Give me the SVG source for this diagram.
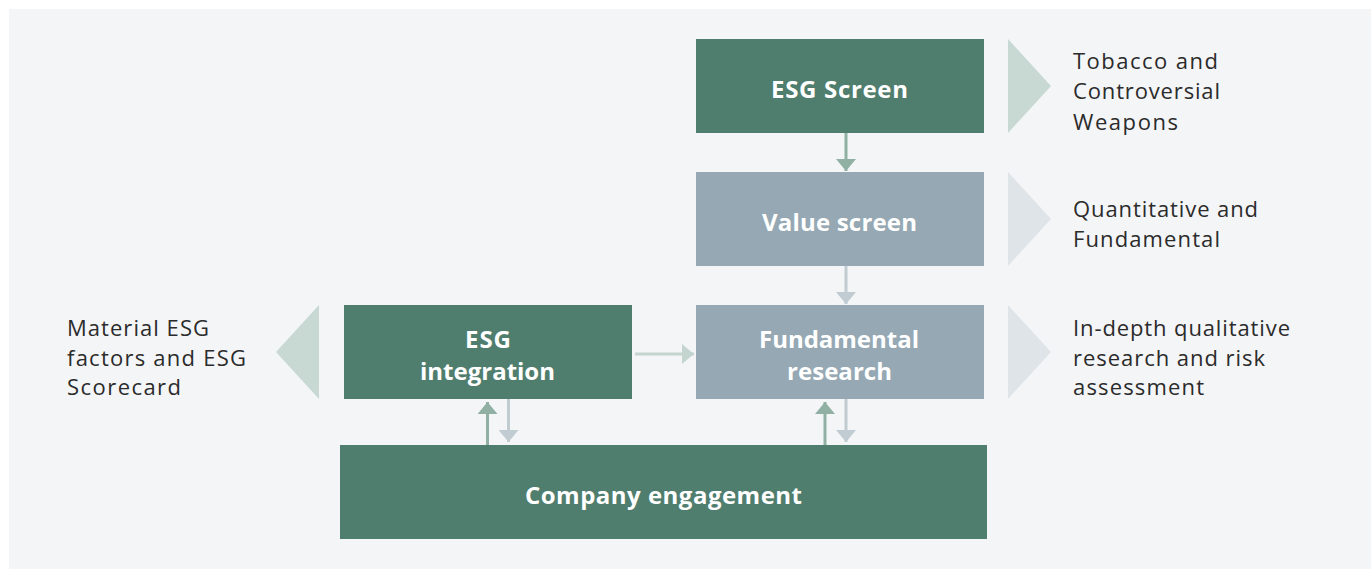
<svg xmlns="http://www.w3.org/2000/svg" width="1371" height="569" viewBox="0 0 1371 569">
<style>
.dk{fill:#4f7d6e}
.lt{fill:#95a8b3}
.bl{font-family:"Open Sans",Lato,"Liberation Sans",sans-serif;font-weight:700;font-size:24px;fill:#ffffff;text-anchor:middle}
.tx{font-family:"Open Sans",Lato,"Liberation Sans",sans-serif;font-size:22px;fill:#2b2b2b}
.cg{fill:#c8d8d2}
.cb{fill:#dfe4e8}
.ag{stroke:#8fb0a3;stroke-width:3;fill:none}
.ab{stroke:#c0ccd2;stroke-width:3;fill:none}
.ah{stroke:#c3d5ce;stroke-width:3;fill:none}
</style>
<defs>
<marker id="mg" viewBox="0 0 12 20" refX="12" refY="10" markerWidth="12" markerHeight="20" markerUnits="userSpaceOnUse" orient="auto"><path d="M0,0L12,10L0,20Z" fill="#8fb0a3"/></marker>
<marker id="mb" viewBox="0 0 12 20" refX="12" refY="10" markerWidth="12" markerHeight="20" markerUnits="userSpaceOnUse" orient="auto"><path d="M0,0L12,10L0,20Z" fill="#c0ccd2"/></marker>
<marker id="mh" viewBox="0 0 12 20" refX="12" refY="10" markerWidth="12" markerHeight="20" markerUnits="userSpaceOnUse" orient="auto"><path d="M0,0L12,10L0,20Z" fill="#c3d5ce"/></marker>
</defs>
<rect x="0" y="0" width="1371" height="569" fill="#ffffff"/>
<rect x="9" y="9" width="1362" height="560" fill="#f4f5f7"/>

<g id="connectors">
<line class="ag" x1="846" y1="133" x2="846" y2="171" marker-end="url(#mg)"/>
<line class="ab" x1="846" y1="266" x2="846" y2="304" marker-end="url(#mb)"/>
<line class="ah" x1="635" y1="354" x2="694" y2="354" marker-end="url(#mh)"/>
<line class="ag" x1="487.5" y1="445" x2="487.5" y2="402" marker-end="url(#mg)"/>
<line class="ab" x1="508.5" y1="399" x2="508.5" y2="442" marker-end="url(#mb)"/>
<line class="ag" x1="825" y1="445" x2="825" y2="402" marker-end="url(#mg)"/>
<line class="ab" x1="846" y1="399" x2="846" y2="442" marker-end="url(#mb)"/>
</g>

<g id="esg-screen">
<rect class="dk" x="696" y="39" width="288" height="94"/>
<text class="bl" x="839.5" y="98" textLength="137" lengthAdjust="spacing">ESG Screen</text>
</g>
<g id="value-screen">
<rect class="lt" x="696" y="172" width="288" height="94"/>
<text class="bl" x="839.5" y="231" textLength="155" lengthAdjust="spacing">Value screen</text>
</g>
<g id="fundamental-research">
<rect class="lt" x="696" y="305" width="288" height="94"/>
<text class="bl" x="839" y="348" textLength="160" lengthAdjust="spacing">Fundamental</text>
<text class="bl" x="839.5" y="380" textLength="105" lengthAdjust="spacing">research</text>
</g>
<g id="esg-integration">
<rect class="dk" x="344" y="305" width="288" height="94"/>
<text class="bl" x="488" y="348" textLength="46" lengthAdjust="spacing">ESG</text>
<text class="bl" x="487.5" y="380" textLength="135" lengthAdjust="spacing">integration</text>
</g>
<g id="company-engagement">
<rect class="dk" x="340" y="445" width="647" height="94"/>
<text class="bl" x="663.5" y="504" textLength="277" lengthAdjust="spacing">Company engagement</text>
</g>

<g id="note-tobacco">
<polygon class="cg" points="1008,39 1051,86 1008,133"/>
<text class="tx" x="1073" y="69" textLength="145" lengthAdjust="spacing">Tobacco and</text>
<text class="tx" x="1073" y="99" textLength="147" lengthAdjust="spacing">Controversial</text>
<text class="tx" x="1073" y="130" textLength="105" lengthAdjust="spacing">Weapons</text>
</g>
<g id="note-quant">
<polygon class="cb" points="1008,172 1051,219 1008,266"/>
<text class="tx" x="1073" y="217" textLength="185" lengthAdjust="spacing">Quantitative and</text>
<text class="tx" x="1073" y="247" textLength="147" lengthAdjust="spacing">Fundamental</text>
</g>
<g id="note-indepth">
<polygon class="cb" points="1008,305 1051,352 1008,399"/>
<text class="tx" x="1073" y="336" textLength="217" lengthAdjust="spacing">In-depth qualitative</text>
<text class="tx" x="1073" y="366" textLength="192" lengthAdjust="spacing">research and risk</text>
<text class="tx" x="1073" y="395" textLength="131" lengthAdjust="spacing">assessment</text>
</g>
<g id="note-material">
<polygon class="cg" points="319,305 276,352 319,399"/>
<text class="tx" x="67" y="336" textLength="142" lengthAdjust="spacing">Material ESG</text>
<text class="tx" x="67" y="366" textLength="179" lengthAdjust="spacing">factors and ESG</text>
<text class="tx" x="67" y="395" textLength="114" lengthAdjust="spacing">Scorecard</text>
</g>
</svg>
